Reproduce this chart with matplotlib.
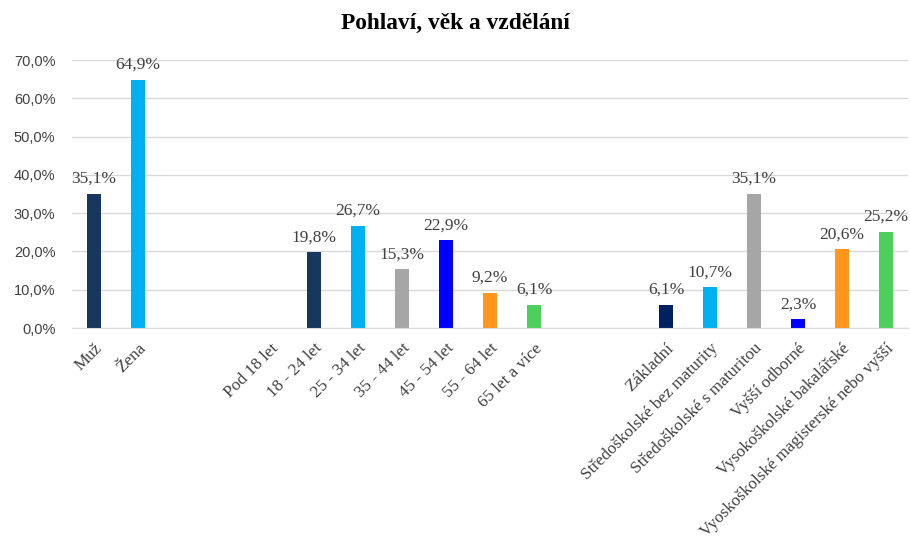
import numpy as np
import matplotlib
matplotlib.use("Agg")
import matplotlib.pyplot as plt

# categories (empty strings are the gaps between groups)
categories = ["Muž", "Žena", "", "",
              "Pod 18 let", "18 - 24 let", "25 - 34 let", "35 - 44 let", "45 - 54 let", "55 - 64 let", "65 let a více",
              "", "",
              "Základní", "Středoškolské bez maturity", "Středoškolské s maturitou", "Vyšší odborné",
              "Vysokoškolské bakalářské", "Vyoskoškolské magisterské nebo vyšší"]
values = [35.1, 64.9, None, None,
          0.0, 19.8, 26.7, 15.3, 22.9, 9.2, 6.1,
          None, None,
          6.1, 10.7, 35.1, 2.3, 20.6, 25.2]
colors = ["#17375e", "#00b0f0", None, None,
          "#17375e", "#17375e", "#00b0f0", "#a6a6a6", "#0000ff", "#ff961e", "#4cd05a",
          None, None,
          "#002060", "#00b0f0", "#a6a6a6", "#0000ff", "#ff961e", "#4cd05a"]

fig = plt.figure(figsize=(9.1, 5.45), dpi=100)
ax = fig.add_axes([72 / 910, 1 - 328 / 545, 836 / 910, 268 / 545])

x = np.arange(len(categories))
for i, (v, c) in enumerate(zip(values, colors)):
    if v is None or v == 0:
        continue
    ax.bar(x[i], v, width=0.32, color=c, zorder=3)
    ax.text(x[i], v + 1.8, f"{v:.1f}%".replace(".", ","), ha="center", va="bottom",
            fontsize=12.5, family="Liberation Serif", color="#404040")

ax.set_xlim(-0.5, 18.5)
ax.set_ylim(0, 70)
ax.set_yticks(np.arange(0, 71, 10))
ax.set_yticklabels([f"{t:.1f}%".replace(".", ",") for t in np.arange(0, 71, 10)],
                   family="Liberation Sans", fontsize=10.5, color="#404040")
ax.set_xticks(x)
ax.set_xticklabels(categories, rotation=45, ha="right", rotation_mode="anchor",
                   family="Liberation Serif", fontsize=12.3, color="#404040")
ax.tick_params(axis="both", length=0)
ax.tick_params(axis="x", pad=9)
ax.tick_params(axis="y", pad=12)
ax.grid(axis="y", color="#d9d9d9", linewidth=1, zorder=0)
for s in ["top", "right", "left"]:
    ax.spines[s].set_visible(False)
ax.spines["bottom"].set_color("#d9d9d9")
ax.spines["bottom"].set_zorder(4)

fig.text(0.5, 1 - 23 / 545, "Pohlaví, věk a vzdělání", ha="center", va="center",
         family="Liberation Serif", fontweight="bold", fontsize=16.8)

fig.savefig("out.png", dpi=100)
